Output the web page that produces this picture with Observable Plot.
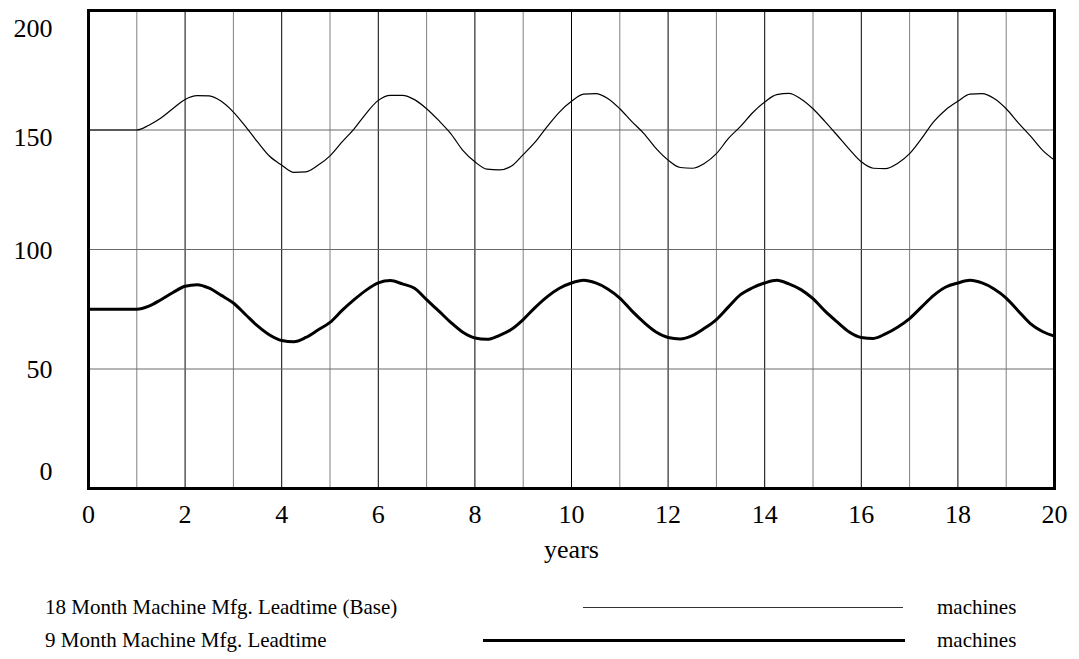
<!DOCTYPE html>
<html>
<head>
<meta charset="utf-8">
<script src="https://cdn.jsdelivr.net/npm/d3@7"></script>
<script src="https://cdn.jsdelivr.net/npm/@observablehq/plot@0.6"></script>
<style>
  html, body { margin: 0; padding: 0; background: white; }
  #chart { width: 1079px; }
  #legend { position: relative; width: 1079px; height: 89px; font-family: "Liberation Serif", "Times New Roman", Tinos, "DejaVu Serif", serif; font-size: 21px; color: black; }
  #legend span { position: absolute; white-space: nowrap; line-height: 26px; }
  #legend .ln { position: absolute; }
</style>
</head>
<body>
<div id="chart"></div>
<div id="legend"></div>
<script>
// ---- data ----
const years = [0, 1, 1.25, 1.5, 1.75, 2, 2.25, 2.5, 2.75, 3, 3.25, 3.5, 3.75, 4, 4.25, 4.5, 4.75, 5, 5.25, 5.5, 5.75, 6, 6.25, 6.5, 6.75, 7, 7.25, 7.5, 7.75, 8, 8.25, 8.5, 8.75, 9, 9.25, 9.5, 9.75, 10, 10.25, 10.5, 10.75, 11, 11.25, 11.5, 11.75, 12, 12.25, 12.5, 12.75, 13, 13.25, 13.5, 13.75, 14, 14.25, 14.5, 14.75, 15, 15.25, 15.5, 15.75, 16, 16.25, 16.5, 16.75, 17, 17.25, 17.5, 17.75, 18, 18.25, 18.5, 18.75, 19, 19.25, 19.5, 19.75, 20];

const baseMachines = [150, 150, 152, 155, 159, 162.8, 164.4, 164.3, 162, 157.5, 151.5, 145, 139, 135.3, 132.3, 132.5, 135.2, 139.2, 145, 150.5, 157, 162.4, 164.5, 164.5, 162.7, 158.9, 154, 148.5, 141.5, 136.7, 133.6, 133.3, 134.8, 139.7, 145, 151.5, 157.5, 162, 165, 165.2, 163.2, 158.9, 153.5, 148.5, 142.3, 137.4, 134.3, 134, 136, 140.1, 146.5, 151.5, 157.2, 161.7, 164.8, 165.3, 163, 158.9, 153.5, 147.8, 142, 136.7, 134, 133.8, 136, 140.1, 146.5, 153.5, 158.5, 162, 165, 165.2, 163.2, 158.9, 153, 147.5, 141.6, 137.4];

const fastMachines = [75, 75, 76.3, 79, 82, 84.6, 85.3, 83.8, 80.8, 77.6, 72.8, 68, 64.2, 61.9, 61.4, 63.2, 66.3, 69.5, 74.5, 79, 83, 86, 87, 85.6, 83.8, 79, 74.3, 69.5, 65.4, 63, 62.4, 64, 66.5, 70.7, 75.8, 80.3, 83.8, 86, 87.1, 86, 83.5, 79.7, 74.3, 69.5, 65.5, 63.2, 62.6, 64, 67, 70.7, 76, 81.1, 84, 86, 87.1, 85.6, 83.2, 79.4, 74.2, 69.7, 65.5, 63.2, 62.8, 64.7, 67.5, 71.1, 76, 80.8, 84.3, 86, 87.1, 86, 83.5, 79.7, 74.3, 69, 65.7, 63.75];

const seriesNames = ["18 Month Machine Mfg. Leadtime (Base)", "9 Month Machine Mfg. Leadtime"];
const units = ["machines", "machines"];
const xTicks = [0, 2, 4, 6, 8, 10, 12, 14, 16, 18, 20];
const yTicks = [0, 50, 100, 150, 200];
const gridYears = d3.range(0, 21);
const gridValues = [50, 100, 150];

// ---- build tables ----
const baseData = years.map((t, i) => ({t, v: baseMachines[i]}));
const fastData = years.map((t, i) => ({t, v: fastMachines[i]}));

const serif = "'Liberation Serif', 'Times New Roman', Tinos, 'DejaVu Serif', serif";

const chart = Plot.plot({
  width: 1079,
  height: 570,
  marginLeft: 88,
  marginRight: 25,
  marginTop: 10,
  marginBottom: 82,
  x: {domain: [0, 20]},
  y: {domain: [0, 200]},
  style: {fontFamily: serif, fontSize: "26px", color: "black", background: "white"},
  marks: [
    Plot.ruleX(gridYears.filter(d => d % 2 === 1), {stroke: "#808080", strokeWidth: 1}),
    Plot.ruleX(gridYears.filter(d => d % 2 === 0), {stroke: "black", strokeWidth: 1}),
    Plot.ruleY(gridValues, {stroke: "#6a6a6a", strokeWidth: 1}),
    Plot.line(baseData, {x: "t", y: "v", stroke: "black", strokeWidth: 1.2, curve: "monotone-x"}),
    Plot.line(fastData, {x: "t", y: "v", stroke: "black", strokeWidth: 3, curve: "monotone-x"}),
    Plot.frame({stroke: "black", strokeWidth: 3}),
    Plot.axisX(xTicks, {tickSize: 0, tickPadding: 16, label: "years", labelAnchor: "center", labelArrow: "none", labelOffset: 69, fontSize: 26, fontFamily: serif}),
    Plot.axisY([yTicks[0]], {tickSize: 0, tickPadding: 36, label: null, dy: -17, fontSize: 26, fontFamily: serif}),
    Plot.axisY([yTicks[1]], {tickSize: 0, tickPadding: 36, label: null, dy: 1, fontSize: 26, fontFamily: serif}),
    Plot.axisY([yTicks[2]], {tickSize: 0, tickPadding: 36, label: null, dy: 1, fontSize: 26, fontFamily: serif}),
    Plot.axisY([yTicks[3]], {tickSize: 0, tickPadding: 36, label: null, dy: 8, fontSize: 26, fontFamily: serif}),
    Plot.axisY([yTicks[4]], {tickSize: 0, tickPadding: 36, label: null, dy: 18, fontSize: 26, fontFamily: serif})
  ]
});
chart.style.fontFamily = serif;
document.getElementById("chart").appendChild(chart);

// ---- legend ----
const legend = document.getElementById("legend");
const rows = [
  {name: seriesNames[0], unit: units[0], top: 24, lineLeft: 583, lineWidth: 320, lineTop: 36.5, lineH: 1.2, color: "#333"},
  {name: seriesNames[1], unit: units[1], top: 57, lineLeft: 483, lineWidth: 422, lineTop: 68.5, lineH: 3, color: "black"}
];
rows.forEach(r => {
  const s = document.createElement("span");
  s.textContent = r.name; s.style.left = "45px"; s.style.top = r.top + "px";
  legend.appendChild(s);
  const l = document.createElement("div");
  l.className = "ln";
  l.style.left = r.lineLeft + "px"; l.style.width = r.lineWidth + "px";
  l.style.top = r.lineTop + "px"; l.style.height = r.lineH + "px"; l.style.background = r.color;
  legend.appendChild(l);
  const u = document.createElement("span");
  u.textContent = r.unit; u.style.left = "937px"; u.style.top = r.top + "px";
  legend.appendChild(u);
});
</script>
</body>
</html>
